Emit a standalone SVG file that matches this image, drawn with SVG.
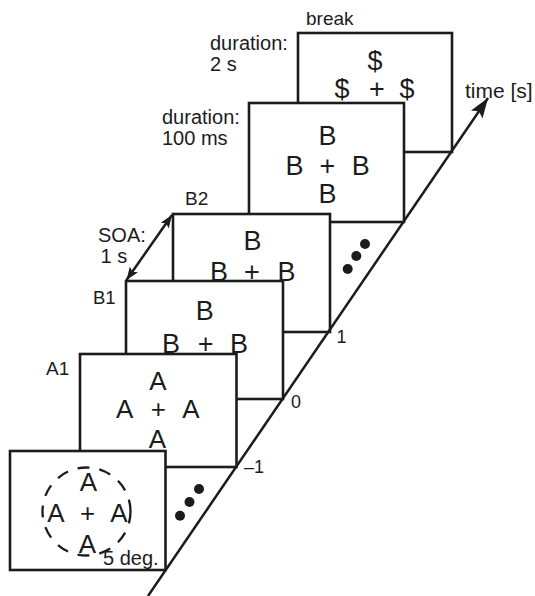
<svg xmlns="http://www.w3.org/2000/svg" width="535" height="596" viewBox="0 0 535 596">
  <style>
    .frame { fill: #ffffff; stroke: #1c1c1c; stroke-width: 2.6; }
    .t { font-family: "Liberation Sans", Arial, sans-serif; fill: #1c1c1c; }
    .lbl { font-size: 20px; }
    .sym { font-size: 27px; text-anchor: middle; }
    .symA { font-size: 26px; text-anchor: middle; }
    .tick { font-size: 18px; }
    .line { stroke: #1c1c1c; stroke-width: 2.5; fill: none; }
    .dot { fill: #1c1c1c; }
  </style>
  <defs>
    <marker id="axisHead" markerUnits="userSpaceOnUse" markerWidth="24" markerHeight="16" refX="20" refY="7" orient="auto">
      <path d="M0,0 L20,7 L0,14 L4,7 Z" fill="#1c1c1c"/>
    </marker>
    <marker id="soaHead" markerUnits="userSpaceOnUse" markerWidth="16" markerHeight="12" refX="13" refY="5" orient="auto-start-reverse">
      <path d="M0,0 L13,5 L0,10 L3,5 Z" fill="#1c1c1c"/>
    </marker>
  </defs>
  <rect x="0" y="0" width="535" height="596" fill="#ffffff"/>

  <!-- break frame -->
  <g id="frame-break">
    <rect class="frame" x="298" y="33" width="154" height="119"/>
    <text class="t sym" x="375" y="69.5" font-size="25">$</text>
    <text class="t sym" x="342" y="98" font-size="25">$</text>
    <text class="t sym" x="377" y="98" font-size="25">+</text>
    <text class="t sym" x="407" y="98" font-size="25">$</text>
    <text class="t" x="306" y="25" font-size="19">break</text>
    <text class="t lbl" x="210" y="50">duration:</text>
    <text class="t lbl" x="210" y="71">2 s</text>
  </g>

  <!-- 100 ms B frame -->
  <g id="frame-b-big">
    <rect class="frame" x="249" y="103" width="155" height="119"/>
    <text class="t sym" x="327.5" y="145">B</text>
    <text class="t sym" x="294.5" y="175">B</text>
    <text class="t sym" x="327.5" y="175">+</text>
    <text class="t sym" x="360.7" y="175">B</text>
    <text class="t sym" x="327.5" y="203">B</text>
    <text class="t lbl" x="162" y="124">duration:</text>
    <text class="t lbl" x="162" y="145">100 ms</text>
  </g>

  <!-- B2 frame -->
  <g id="frame-b2">
    <rect class="frame" x="173" y="214" width="157" height="118"/>
    <text class="t sym" x="252.5" y="250">B</text>
    <text class="t sym" x="219" y="281">B</text>
    <text class="t sym" x="252" y="281">+</text>
    <text class="t sym" x="286.5" y="281">B</text>
    <text class="t" x="185" y="205" font-size="19">B2</text>
  </g>

  <!-- B1 frame -->
  <g id="frame-b1">
    <rect class="frame" x="126" y="281" width="157" height="118"/>
    <text class="t sym" x="204.7" y="320">B</text>
    <text class="t sym" x="171" y="353">B</text>
    <text class="t sym" x="205.7" y="353">+</text>
    <text class="t sym" x="239" y="353">B</text>
    <text class="t" x="93" y="304" font-size="18.5">B1</text>
  </g>

  <!-- A1 frame -->
  <g id="frame-a1">
    <rect class="frame" x="80" y="354" width="156.5" height="113"/>
    <text class="t symA" x="158" y="390">A</text>
    <text class="t symA" x="124.7" y="418">A</text>
    <text class="t symA" x="158.3" y="418">+</text>
    <text class="t symA" x="191" y="418">A</text>
    <text class="t symA" x="157.5" y="448">A</text>
    <text class="t" x="46" y="375" font-size="19">A1</text>
  </g>

  <!-- first frame with dashed circle -->
  <g id="frame-first">
    <rect class="frame" x="10" y="451" width="155.5" height="119"/>
    <circle cx="86.5" cy="511.5" r="44" fill="none" stroke="#1c1c1c" stroke-width="2.3" stroke-dasharray="12 10"/>
    <text class="t symA" x="88.3" y="491">A</text>
    <text class="t symA" x="56" y="521.5">A</text>
    <text class="t symA" x="87.7" y="521.5">+</text>
    <text class="t symA" x="119" y="521.5">A</text>
    <text class="t symA" x="87.5" y="553">A</text>
    <text class="t lbl" x="103" y="565">5 deg.</text>
  </g>

  <!-- ellipsis dots -->
  <g id="dots-lower">
    <circle class="dot" cx="180" cy="515.7" r="5"/>
    <circle class="dot" cx="189.5" cy="502" r="5"/>
    <circle class="dot" cx="199" cy="489" r="5"/>
  </g>
  <g id="dots-upper">
    <circle class="dot" cx="347.7" cy="269" r="5"/>
    <circle class="dot" cx="356.3" cy="256" r="5"/>
    <circle class="dot" cx="365" cy="244" r="5"/>
  </g>

  <!-- connectors -->
  <g id="connectors">
    <line class="line" x1="148" y1="596" x2="488" y2="98" marker-end="url(#axisHead)"/>
    <line class="line" x1="126.5" y1="280" x2="172" y2="215" stroke-width="2" marker-start="url(#soaHead)" marker-end="url(#soaHead)"/>
  </g>

  <!-- axis and SOA labels -->
  <g id="labels">
    <text class="t" x="465" y="98" font-size="21">time [s]</text>
    <text class="t tick" x="336.5" y="343">1</text>
    <text class="t tick" x="291" y="408">0</text>
    <text class="t tick" x="244" y="472.5">–1</text>
    <text class="t lbl" x="98" y="241.5">SOA:</text>
    <text class="t lbl" x="100.5" y="262.5">1 s</text>
  </g>
</svg>
